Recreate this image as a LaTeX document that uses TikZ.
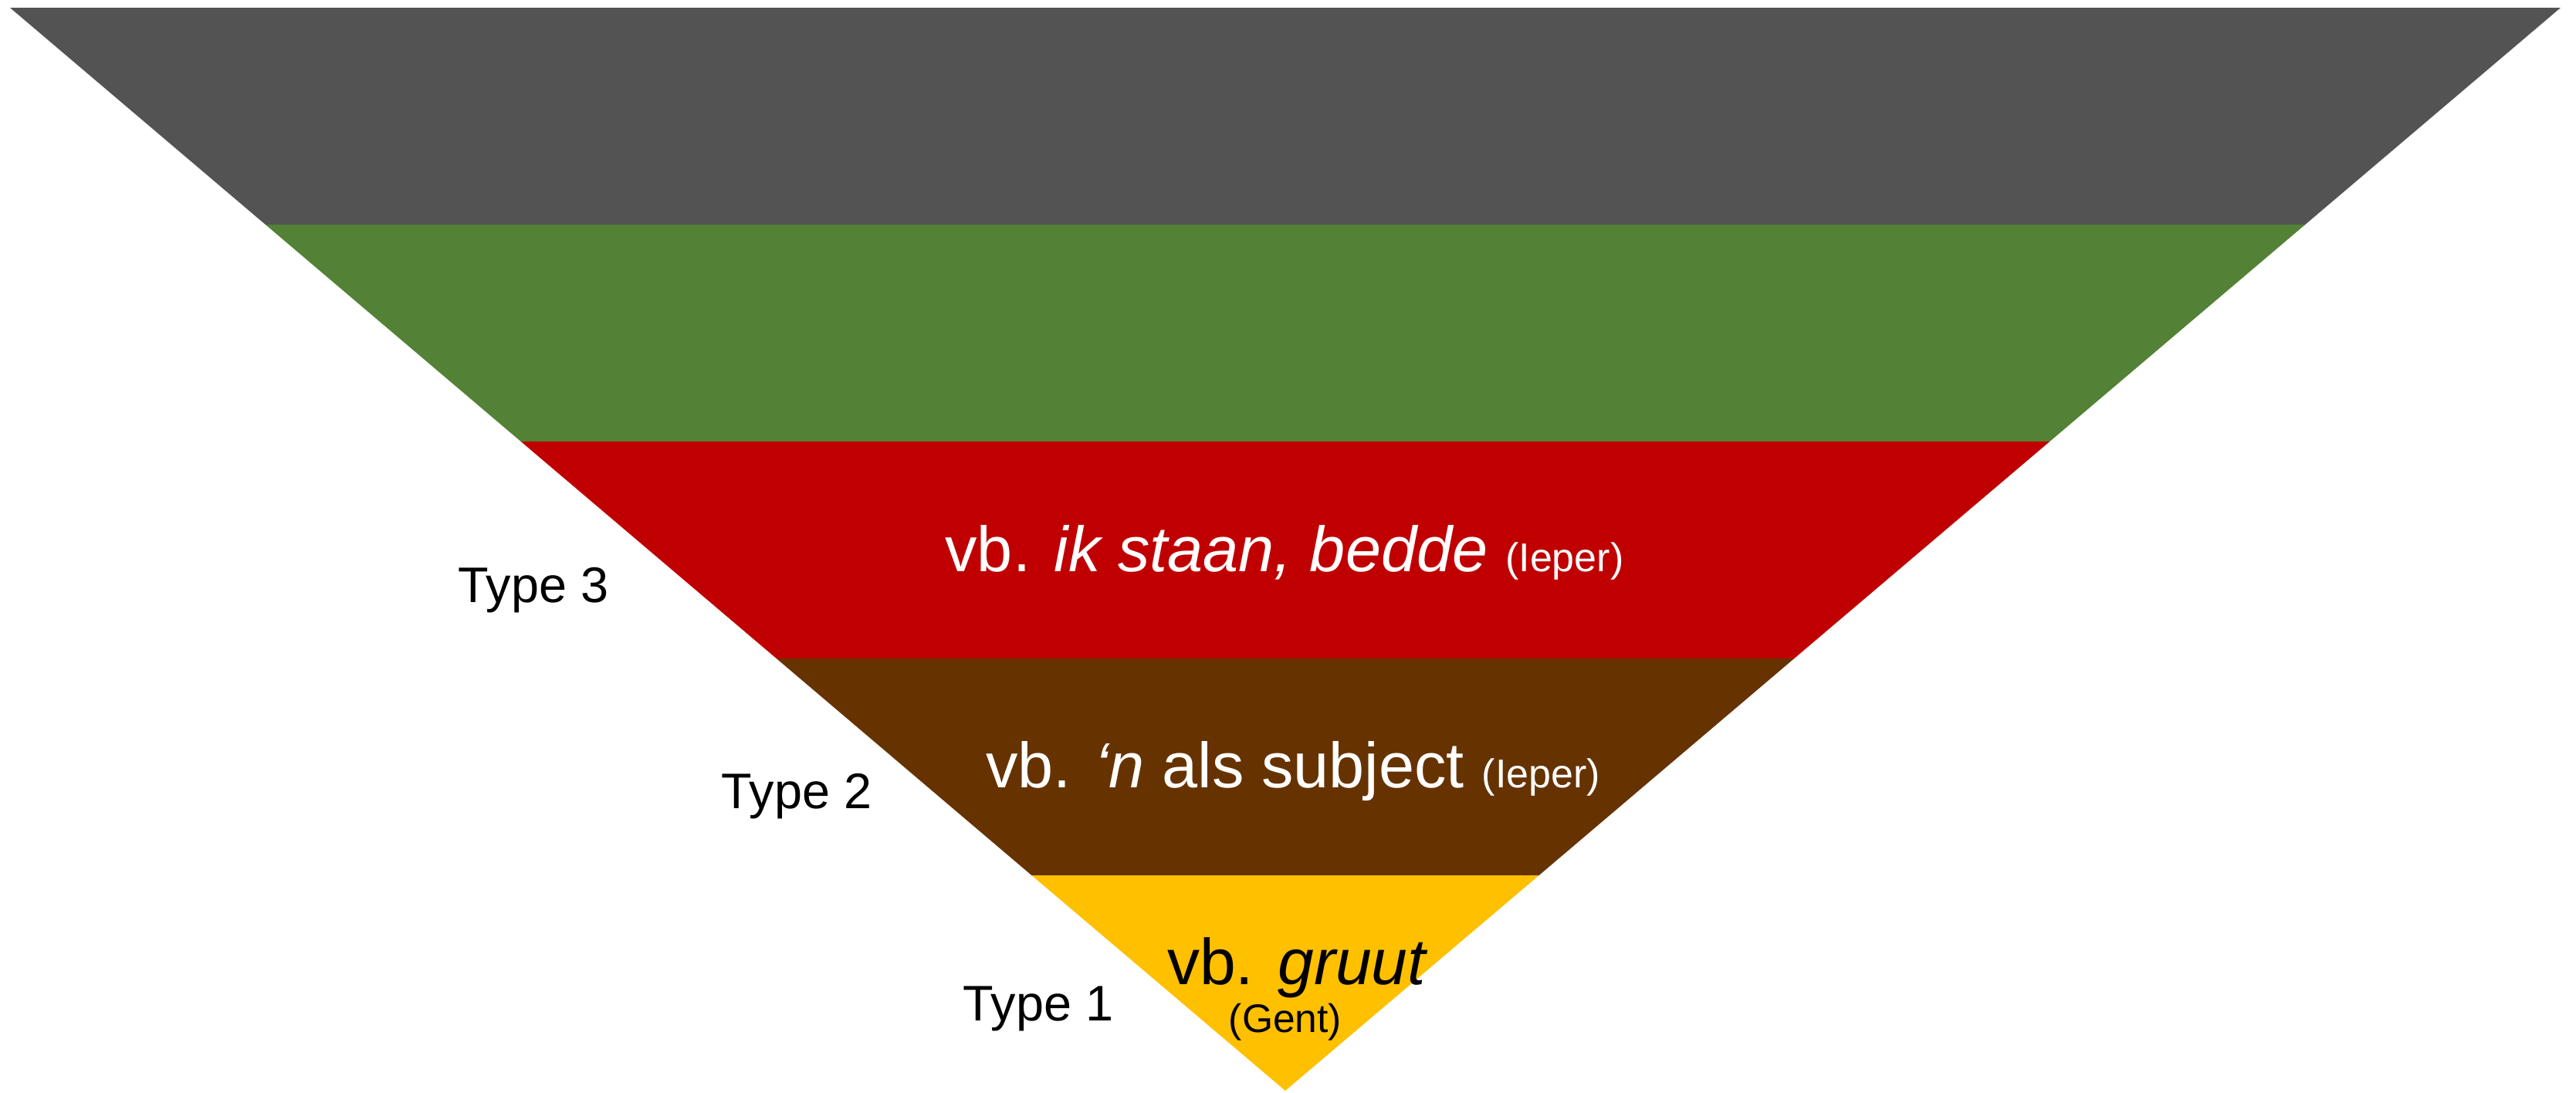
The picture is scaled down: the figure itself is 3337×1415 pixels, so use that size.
\documentclass[tikz,border=0pt]{standalone}
\usepackage{fontspec}
\setmainfont{Liberation Sans}
\definecolor{cgray}{HTML}{535353}
\definecolor{cgreen}{HTML}{538135}
\definecolor{cred}{HTML}{C00000}
\definecolor{cbrown}{HTML}{663300}
\definecolor{cyellow}{HTML}{FFC000}
\begin{document}
\begin{tikzpicture}[x=0.25pt,y=-0.25pt,
  bigtxt/.style={inner sep=0pt,anchor=base,font=\fontsize{20.7pt}{24pt}\selectfont},
  typetxt/.style={inner sep=0pt,anchor=base,font=\fontsize{16.2pt}{19pt}\selectfont,text=black},
  smalltxt/.style={inner sep=0pt,anchor=base,font=\fontsize{13pt}{15pt}\selectfont}]
\useasboundingbox (0,0) rectangle (3337,1415);
% boundary coordinates
\coordinate (L0) at (13,10);     \coordinate (R0) at (3317,10);
\coordinate (L1) at (343.9,291); \coordinate (R1) at (2986.1,291);
\coordinate (L2) at (674.8,572); \coordinate (R2) at (2655.2,572);
\coordinate (L3) at (1005.7,853);\coordinate (R3) at (2324.3,853);
\coordinate (L4) at (1336.4,1134);\coordinate (R4) at (1993.6,1134);
\coordinate (A) at (1665,1413);
\fill[cgray] (L0) -- (R0) -- (R1) -- (L1) -- cycle;
\fill[cgreen] (L1) -- (R1) -- (R2) -- (L2) -- cycle;
\fill[cred] (L2) -- (R2) -- (R3) -- (L3) -- cycle;
\fill[cbrown] (L3) -- (R3) -- (R4) -- (L4) -- cycle;
\fill[cyellow] (L4) -- (R4) -- (A) -- cycle;
% texts
\node[bigtxt,text=white] (t3) at (1664,740) {vb. \textit{ik staan, bedde} {\fontsize{13pt}{15pt}\selectfont (Ieper)}};
\node[bigtxt,text=white] (t2) at (1675,1020) {vb. \textit{‘n} als subject {\fontsize{13pt}{15pt}\selectfont (Ieper)}};
\node[bigtxt,text=black,font=\fontsize{21pt}{24pt}\selectfont] (t1) at (1681,1275) {vb. \textit{gruut}};
\node[smalltxt,text=black,font=\fontsize{12.9pt}{15pt}\selectfont] (t1b) at (1665,1337) {(Gent)};
\node[typetxt] (ty3) at (691,780) {Type 3};
\node[typetxt] (ty2) at (1032,1047) {Type 2};
\node[typetxt] (ty1) at (1345,1322) {Type 1};
\end{tikzpicture}
\end{document}
